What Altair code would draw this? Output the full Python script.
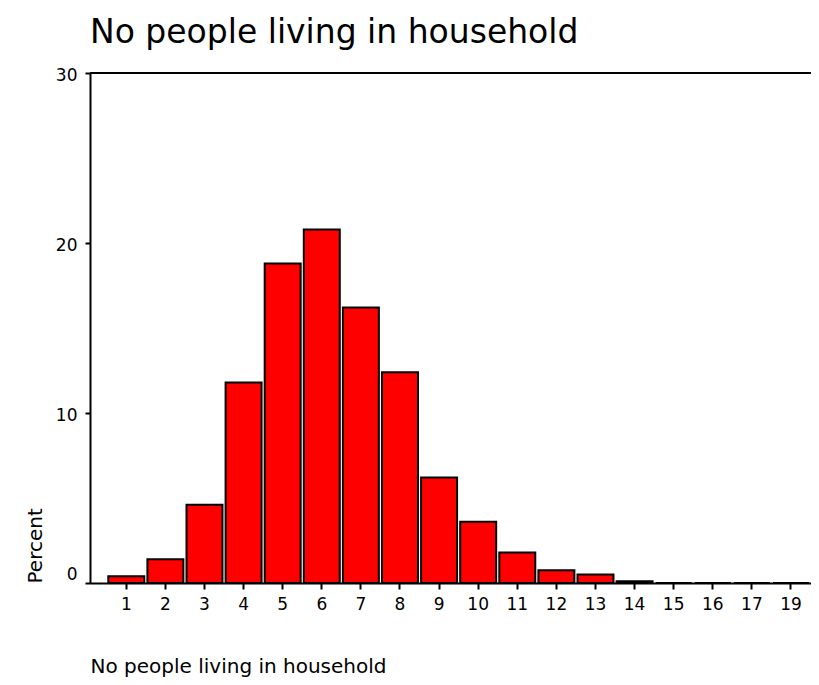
import altair as alt
import pandas as pd

categories = ["1", "2", "3", "4", "5", "6", "7", "8", "9", "10",
              "11", "12", "13", "14", "15", "16", "17", "19"]
percents = [0.4, 1.4, 4.6, 11.8, 18.8, 20.8, 16.2, 12.4, 6.2, 3.6,
            1.8, 0.75, 0.5, 0.1, 0.0, 0.0, 0.0, 0.0]
y_ticks = [0, 10, 20, 30]

df = pd.DataFrame({"cat": categories, "pct": percents})

FONT = "DejaVu Sans"
W = 721
H = 510

x_enc = alt.X(
    "cat:O",
    sort=categories,
    scale=alt.Scale(paddingInner=0.08, paddingOuter=0.26, align=0.9),
    axis=alt.Axis(
        title="No people living in household",
        labelAngle=0,
        labelFont=FONT,
        labelFontSize=17,
        labelColor="black",
        labelPadding=7,
        tickSize=6,
        tickWidth=2,
        tickColor="black",
        domainColor="black",
        domainWidth=2,
        titleFont=FONT,
        titleFontSize=20,
        titleFontWeight="normal",
        titleColor="black",
        titleAlign="left",
        titleAnchor="start",
        titleBaseline="alphabetic",
        titleX=0,
        titleY=89,
    ),
)

y_enc = alt.Y(
    "pct:Q",
    scale=alt.Scale(domain=[0, 30], nice=False, zero=True),
    axis=alt.Axis(
        title="Percent",
        values=y_ticks,
        grid=False,
        labelFont=FONT,
        labelFontSize=17,
        labelColor="black",
        labelPadding=8,
        labelOffset=alt.ExprRef(expr="datum.value == 0 ? -9 : 2"),
        tickSize=5,
        tickWidth=2,
        tickColor="black",
        domainColor="black",
        domainWidth=2,
        titleFont=FONT,
        titleFontSize=20,
        titleFontWeight="normal",
        titleColor="black",
        titleAngle=270,
        titleAlign="left",
        titleBaseline="middle",
        titleX=-55,
        titleY=H,
    ),
)

bars = alt.Chart(df).mark_bar(
    color="#FF0000", stroke="black", strokeWidth=2
).encode(x=x_enc, y=y_enc)

top_line = alt.Chart(pd.DataFrame({"v": [30]})).mark_rule(
    color="black", strokeWidth=2
).encode(y=alt.Y("v:Q"), x=alt.value(0), x2=alt.value(W))

chart = alt.layer(bars, top_line).properties(
    width=W,
    height=H,
    title=alt.TitleParams(
        "No people living in household",
        anchor="start",
        frame="group",
        font=FONT,
        fontSize=33,
        fontWeight="normal",
        color="black",
        offset=16,
    ),
    autosize=alt.AutoSizeParams(type="none"),
    padding={"left": 82, "top": 65, "right": 0, "bottom": 94},
).configure_view(strokeWidth=0).configure(background="white")

chart.save("out.html", embed_options={"renderer": "svg", "actions": False})
